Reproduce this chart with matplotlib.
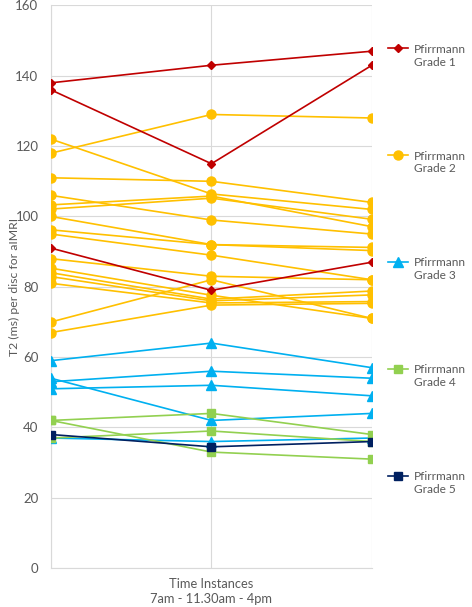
import matplotlib
matplotlib.use('Agg')
import matplotlib.pyplot as plt
from matplotlib.legend_handler import HandlerLine2D

plt.rcParams['font.family'] = ['Lato', 'DejaVu Sans']

# values per disc: 7am, 11.30am, 4pm
time_points = [0, 1, 2]
grade1 = [[138, 143, 147], [136, 115, 143], [91, 79, 87]]
grade2 = [[122, 106.4, 102], [118, 129, 128], [111, 110, 104], [106, 99, 95],
          [103.3, 105.8, 97.1], [102.1, 105.2, 99.2], [100, 92, 91.2], [96.2, 92, 90.3],
          [95, 89, 82], [88, 83, 82], [85.3, 77.6, 71], [84, 76.5, 78.8],
          [82.9, 76, 77.7], [81, 75.4, 75.8], [70, 82, 71], [67, 74.8, 75.3]]
grade3 = [[59, 64, 57], [54, 42, 44], [53, 56, 54], [51, 52, 49], [37, 36, 37]]
grade4 = [[42, 44, 38], [42, 33, 31], [37, 39, 36]]
grade5 = [[38, 34.5, 36]]

labels = ['Pfirrmann\nGrade 1', 'Pfirrmann\nGrade 2', 'Pfirrmann\nGrade 3',
          'Pfirrmann\nGrade 4', 'Pfirrmann\nGrade 5']
colours = ['#C00000', '#FFC000', '#00B0F0', '#92D050', '#002060']
markers = ['D', 'o', '^', 's', 's']
msizes = [4.5, 6.5, 6.5, 5.5, 5.5]


class FirstLineHandler(HandlerLine2D):
    # put the key next to the first text line instead of the middle
    def __init__(self, shift, **kw):
        super().__init__(**kw)
        self.shift = shift

    def create_artists(self, legend, orig_handle, xdescent, ydescent,
                       width, height, fontsize, trans):
        return super().create_artists(legend, orig_handle, xdescent,
                                      ydescent - self.shift, width, height,
                                      fontsize, trans)


fig = plt.figure(figsize=(4.72, 6.07), dpi=100)
ax = fig.add_axes([0.108, 0.064, 0.68, 0.927])

groups = [grade1, grade2, grade3, grade4, grade5]
handles = [None] * 5
# draw grade 2 first so the red lines sit on top of it
for i in [1, 0, 2, 3, 4]:
    for disc in groups[i]:
        ln, = ax.plot(time_points, disc, color=colours[i], marker=markers[i],
                      markersize=msizes[i], linewidth=1.2, zorder=3)
    handles[i] = ln

ax.set_xlim(0, 2)
ax.set_ylim(0, 160)
ax.set_yticks(range(0, 161, 20))
ax.set_xticks(time_points)
ax.set_xticklabels([])
ax.grid(True, color='#D9D9D9', linewidth=0.8)
ax.set_axisbelow(True)
ax.tick_params(length=0, colors='#595959', labelsize=9.5, pad=9)
for s in ['top', 'right']:
    ax.spines[s].set_visible(False)
ax.spines['left'].set_color('#D9D9D9')
ax.spines['bottom'].set_color('#D9D9D9')

ax.set_ylabel('T2 (ms) per disc for aIMRI', color='#595959', fontsize=8.8,
              labelpad=-3.5)
ax.set_xlabel('Time Instances\n7am - 11.30am - 4pm', color='#595959',
              fontsize=9.3, linespacing=1.3, labelpad=-2)

fig.legend(handles, labels, loc='upper left', bbox_to_anchor=(0.822, 0.928),
           frameon=False, fontsize=8.6, labelcolor='#595959',
           handlelength=1.7, handletextpad=0.45, labelspacing=6.95,
           borderpad=0, borderaxespad=0,
           handler_map={h: FirstLineHandler(11) for h in handles})

fig.savefig('out.png', dpi=100)
